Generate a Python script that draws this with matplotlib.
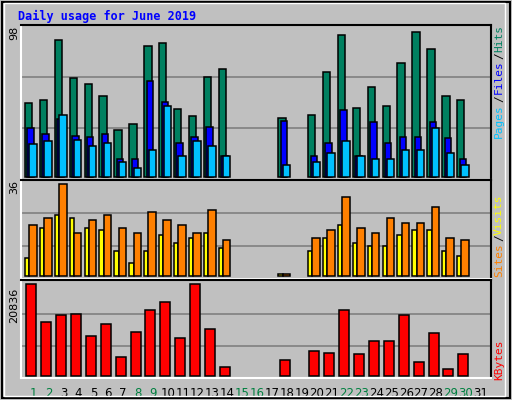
import numpy as np
import matplotlib.pyplot as plt

days = np.arange(1, 32)
hits = [50, 52, 93, 67, 63, 55, 32, 36, 89, 91, 46, 41, 68, 73, 0, 0, 0, 40, 0,
        42, 71, 96, 47, 61, 48, 77, 98, 87, 55, 52, 0]
files = [33, 29, 39, 28, 27, 29, 12, 12, 65, 51, 23, 27, 34, 14, 0, 0, 0, 38, 0,
         14, 23, 45, 14, 37, 23, 27, 27, 37, 26, 12, 0]
pages = [22, 24, 42, 25, 21, 23, 10, 6, 18, 48, 14, 24, 21, 14, 0, 0, 0, 8, 0,
         10, 16, 24, 14, 12, 12, 18, 18, 33, 16, 8, 0]
visits = [7, 19, 24, 23, 19, 18, 10, 5, 10, 16, 13, 15, 17, 11, 0, 0, 0, 1, 0,
          10, 15, 20, 13, 12, 12, 16, 18, 18, 10, 8, 0]
sites = [20, 23, 36, 17, 22, 24, 19, 17, 25, 22, 20, 17, 26, 14, 0, 0, 0, 1, 0,
         15, 18, 31, 19, 17, 23, 21, 21, 27, 15, 14, 0]
kbytes = [20836, 12166, 13763, 13991, 8973, 11710, 4182, 9885, 14904, 16729, 8517,
          20836, 10570, 1901, 0, 0, 0, 3498, 0, 5551, 5095, 14904, 4867, 7833,
          7833, 13763, 3042, 9657, 1445, 4867, 0]
weekend = [1, 2, 8, 9, 15, 16, 22, 23, 29, 30]

W, H = 512, 400
BG = "#c0c0c0"
fig = plt.figure(figsize=(W / 100, H / 100), dpi=100, facecolor=BG)
mono = "DejaVu Sans Mono"


def make_ax(top, bottom, ylim, grid):
    ax = fig.add_axes([21 / W, 1 - bottom / H, 470 / W, (bottom - top) / H])
    ax.set_facecolor(BG)
    ax.set_xlim(0.195, 31.74)
    ax.set_ylim(*ylim)
    for g in grid:
        ax.axhline(g, color="#808080", lw=1.2, zorder=0)
    ax.set_xticks([])
    ax.set_yticks([])
    for s in ax.spines.values():
        s.set_linewidth(1.5)
        s.set_color("black")
    ax.spines["left"].set_color("white")
    ax.spines["bottom"].set_color("white")
    return ax


def bars(ax, vals, off, width, color):
    v = np.array(vals, dtype=float)
    m = v > 0
    ax.bar(days[m] + off, v[m], width=width, align="edge", color=color,
           edgecolor="black", linewidth=1.1)


# pages / files / hits
ax1 = make_ax(25, 180, (-2.2, 103), [98 * 0.69, 98 * 0.34])
bars(ax1, hits, -0.54, 0.5, "#008060")
bars(ax1, files, -0.37, 0.43, "#0000ff")
bars(ax1, pages, -0.24, 0.49, "#00c0ff")

# visits / sites
ax2 = make_ax(180, 279, (-1.1, 37.7), [36 * 0.685, 36 * 0.326])
bars(ax2, visits, -0.54, 0.29, "#ffff00")
bars(ax2, sites, -0.25, 0.5, "#ff8000")

# kbytes
ax3 = make_ax(280, 378, (-525, 21818), [20836 * 0.68, 20836 * 0.32])
bars(ax3, kbytes, -0.45, 0.67, "#ff0000")

for d in days:
    ax3.text(d + 0.05, -0.09, str(d), transform=ax3.get_xaxis_transform(),
             ha="center", va="top", fontsize=8.5, family="DejaVu Sans",
             color="#008040" if d in weekend else "black")

fig.text(18 / W, 1 - 16 / H, "Daily usage for June 2019", family=mono,
         weight="bold", fontsize=8.5, color="#0000ff", va="center")

for txt, yc in [("98", 33), ("36", 187), ("20836", 305)]:
    fig.text(14 / W, 1 - yc / H, txt, rotation=90, ha="center", va="center",
             fontsize=8, family="DejaVu Sans")


def side(parts, y0, y1):
    # stack rotated words between y0 (bottom) and y1 (top), in pixels
    full = "".join(t for t, _ in parts)
    step = (y0 - y1) / len(full)
    y = y0
    for txt, col in parts:
        fig.text(499 / W, 1 - (y - len(txt) * step / 2) / H, txt.strip(),
                 rotation=90, ha="center", va="center", fontsize=8,
                 family=mono, color=col)
        y -= len(txt) * step


side([("Pages ", "#00c0ff"), ("/ ", "#000000"), ("Files ", "#0000ff"),
      ("/ ", "#000000"), ("Hits", "#008060")], 137, 28)
side([("Sites ", "#ff8000"), ("/ ", "#000000"), ("Visits", "#ffff00")], 277, 198)
side([("KBytes", "#ff0000")], 377, 342)

# outer frame
fig.patches.append(plt.Rectangle((0.004, 0.004), 0.992, 0.992,
                                 transform=fig.transFigure, fill=False,
                                 edgecolor="black", lw=1.5))
fig.patches.append(plt.Rectangle((0.008, 0.01), 0.978, 0.982,
                                 transform=fig.transFigure, fill=False,
                                 edgecolor="white", lw=1.0))

fig.savefig("out.png", dpi=100, facecolor=BG)
